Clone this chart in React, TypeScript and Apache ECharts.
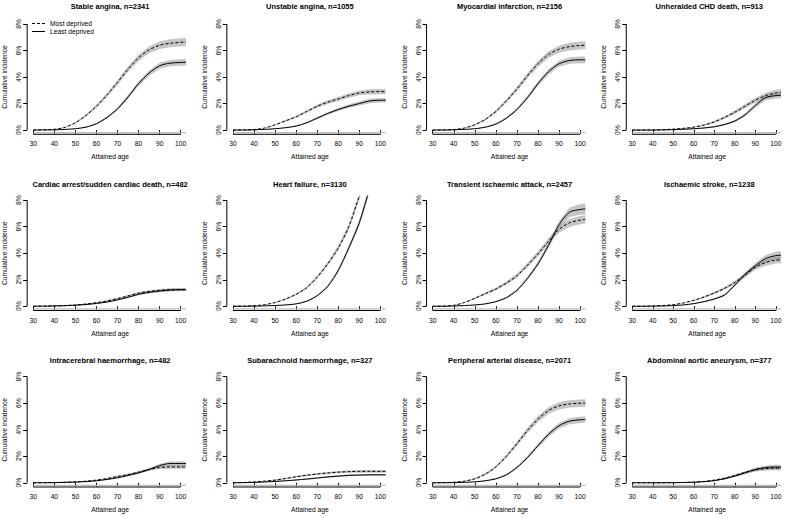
import React, { useEffect, useRef } from "react";
import * as echarts from "echarts";

// ---------- data (cumulative incidence, %) ----------
const ages = [30, 35, 40, 45, 50, 55, 60, 65, 70, 75, 80, 85, 90, 95, 100, 102.5];
const xTicks = [30, 40, 50, 60, 70, 80, 90, 100];
const yTicks = [0, 2, 4, 6, 8];

const titles = [
  "Stable angina, n=2341",
  "Unstable angina, n=1055",
  "Myocardial infarction, n=2156",
  "Unheralded CHD death, n=913",
  "Cardiac arrest/sudden cardiac death, n=482",
  "Heart failure, n=3130",
  "Transient ischaemic attack, n=2457",
  "Ischaemic stroke, n=1238",
  "Intracerebral haemorrhage, n=482",
  "Subarachnoid haemorrhage, n=327",
  "Peripheral arterial disease, n=2071",
  "Abdominal aortic aneurysm, n=377",
];

const stableAnginaMost = [0, 0.02, 0.06, 0.2, 0.55, 1.1, 1.8, 2.65, 3.6, 4.6, 5.45, 6.05, 6.4, 6.55, 6.62, 6.65];
const stableAnginaLeast = [0, 0.01, 0.02, 0.05, 0.1, 0.22, 0.48, 0.95, 1.6, 2.5, 3.5, 4.3, 4.85, 5.05, 5.1, 5.12];
const stableAnginaMostCI = [0, 0, 0.01, 0.03, 0.06, 0.09, 0.12, 0.15, 0.18, 0.21, 0.24, 0.26, 0.28, 0.3, 0.3, 0.3];
const stableAnginaLeastCI = [0, 0, 0, 0.01, 0.02, 0.04, 0.06, 0.09, 0.12, 0.15, 0.18, 0.2, 0.22, 0.24, 0.25, 0.25];

const unstableAnginaMost = [0, 0.01, 0.04, 0.15, 0.4, 0.7, 1.0, 1.4, 1.8, 2.1, 2.35, 2.6, 2.8, 2.88, 2.9, 2.9];
const unstableAnginaLeast = [0, 0, 0.02, 0.05, 0.1, 0.18, 0.3, 0.55, 0.9, 1.25, 1.55, 1.8, 2.0, 2.2, 2.25, 2.25];
const unstableAnginaMostCI = [0, 0, 0.01, 0.02, 0.04, 0.06, 0.08, 0.1, 0.12, 0.14, 0.15, 0.17, 0.18, 0.2, 0.2, 0.2];
const unstableAnginaLeastCI = [0, 0, 0, 0.01, 0.02, 0.03, 0.04, 0.06, 0.08, 0.1, 0.12, 0.14, 0.15, 0.17, 0.17, 0.17];

const myocardialMost = [0, 0.01, 0.04, 0.15, 0.4, 0.8, 1.4, 2.2, 3.1, 4.1, 5.0, 5.7, 6.1, 6.3, 6.38, 6.4];
const myocardialLeast = [0, 0, 0.02, 0.05, 0.1, 0.22, 0.45, 0.9, 1.55, 2.45, 3.5, 4.4, 5.0, 5.25, 5.3, 5.3];
const myocardialMostCI = [0, 0, 0.01, 0.03, 0.05, 0.08, 0.11, 0.14, 0.17, 0.2, 0.23, 0.25, 0.27, 0.29, 0.3, 0.3];
const myocardialLeastCI = [0, 0, 0, 0.01, 0.02, 0.04, 0.06, 0.09, 0.12, 0.15, 0.18, 0.21, 0.23, 0.25, 0.26, 0.26];

const chdDeathMost = [0, 0, 0.01, 0.03, 0.07, 0.13, 0.22, 0.38, 0.62, 0.95, 1.35, 1.8, 2.25, 2.6, 2.8, 2.85];
const chdDeathLeast = [0, 0, 0, 0.01, 0.03, 0.06, 0.1, 0.16, 0.25, 0.42, 0.68, 1.15, 1.85, 2.45, 2.6, 2.62];
const chdDeathMostCI = [0, 0, 0, 0.01, 0.02, 0.03, 0.04, 0.06, 0.08, 0.1, 0.13, 0.16, 0.19, 0.22, 0.24, 0.25];
const chdDeathLeastCI = [0, 0, 0, 0, 0.01, 0.02, 0.03, 0.04, 0.05, 0.07, 0.09, 0.12, 0.16, 0.2, 0.22, 0.22];

const cardiacArrestMost = [0, 0.01, 0.03, 0.06, 0.1, 0.17, 0.27, 0.4, 0.58, 0.78, 1.0, 1.12, 1.2, 1.25, 1.25, 1.25];
const cardiacArrestLeast = [0, 0.01, 0.02, 0.04, 0.08, 0.13, 0.21, 0.32, 0.48, 0.68, 0.9, 1.05, 1.15, 1.22, 1.25, 1.25];
const cardiacArrestMostCI = [0, 0, 0.01, 0.01, 0.02, 0.03, 0.04, 0.05, 0.06, 0.07, 0.08, 0.09, 0.1, 0.1, 0.1, 0.1];
const cardiacArrestLeastCI = [0, 0, 0, 0.01, 0.02, 0.03, 0.03, 0.04, 0.05, 0.06, 0.07, 0.08, 0.09, 0.1, 0.1, 0.1];

const heartFailureMost = [0, 0.01, 0.04, 0.12, 0.28, 0.55, 0.9, 1.4, 2.2, 3.2, 4.4, 6.0, 8.3, 10.5, 12.5, 13.5];
const heartFailureLeast = [0, 0, 0.01, 0.03, 0.06, 0.1, 0.18, 0.38, 0.8, 1.5, 2.7, 4.4, 6.3, 8.9, 11.0, 12.0];
const heartFailureMostCI = [0, 0, 0.01, 0.02, 0.03, 0.05, 0.07, 0.09, 0.12, 0.15, 0.18, 0.22, 0.27, 0.32, 0.35, 0.35];
const heartFailureLeastCI = [0, 0, 0, 0.01, 0.01, 0.02, 0.03, 0.05, 0.07, 0.1, 0.14, 0.18, 0.24, 0.3, 0.35, 0.35];

const tiaMost = [0, 0.01, 0.07, 0.28, 0.6, 0.95, 1.3, 1.75, 2.3, 3.1, 3.95, 4.9, 5.8, 6.3, 6.5, 6.55];
const tiaLeast = [0, 0, 0.02, 0.05, 0.1, 0.18, 0.35, 0.65, 1.2, 2.1, 3.2, 4.6, 6.15, 7.1, 7.3, 7.35];
const tiaMostCI = [0, 0, 0.02, 0.04, 0.07, 0.09, 0.11, 0.13, 0.15, 0.18, 0.2, 0.23, 0.26, 0.3, 0.32, 0.32];
const tiaLeastCI = [0, 0, 0, 0.01, 0.02, 0.03, 0.05, 0.07, 0.1, 0.13, 0.17, 0.22, 0.28, 0.36, 0.4, 0.4];

const strokeMost = [0, 0, 0.02, 0.06, 0.12, 0.25, 0.45, 0.7, 1.0, 1.35, 1.8, 2.35, 2.95, 3.3, 3.48, 3.5];
const strokeLeast = [0, 0, 0.01, 0.02, 0.05, 0.1, 0.2, 0.35, 0.55, 0.85, 1.6, 2.4, 3.05, 3.6, 3.82, 3.85];
const strokeMostCI = [0, 0, 0, 0.01, 0.02, 0.03, 0.05, 0.07, 0.09, 0.11, 0.13, 0.16, 0.2, 0.24, 0.26, 0.26];
const strokeLeastCI = [0, 0, 0, 0, 0.01, 0.02, 0.03, 0.05, 0.07, 0.09, 0.12, 0.16, 0.21, 0.27, 0.3, 0.3];

const ichMost = [0, 0.01, 0.02, 0.04, 0.07, 0.12, 0.2, 0.32, 0.48, 0.62, 0.8, 1.0, 1.15, 1.2, 1.2, 1.2];
const ichLeast = [0, 0, 0.01, 0.03, 0.05, 0.09, 0.15, 0.25, 0.38, 0.55, 0.75, 1.0, 1.3, 1.45, 1.45, 1.45];
const ichMostCI = [0, 0, 0, 0.01, 0.01, 0.02, 0.03, 0.04, 0.05, 0.06, 0.08, 0.1, 0.12, 0.14, 0.15, 0.15];
const ichLeastCI = [0, 0, 0, 0, 0.01, 0.02, 0.03, 0.04, 0.05, 0.06, 0.08, 0.1, 0.13, 0.16, 0.17, 0.17];

const sahMost = [0, 0.02, 0.06, 0.12, 0.2, 0.32, 0.45, 0.57, 0.66, 0.74, 0.8, 0.84, 0.86, 0.86, 0.86, 0.86];
const sahLeast = [0, 0.01, 0.03, 0.06, 0.1, 0.15, 0.21, 0.28, 0.36, 0.44, 0.5, 0.56, 0.58, 0.6, 0.6, 0.6];
const sahMostCI = [0, 0.01, 0.02, 0.03, 0.04, 0.05, 0.06, 0.07, 0.08, 0.08, 0.09, 0.09, 0.1, 0.1, 0.1, 0.1];
const sahLeastCI = [0, 0, 0.01, 0.02, 0.03, 0.03, 0.04, 0.05, 0.05, 0.06, 0.06, 0.07, 0.07, 0.07, 0.07, 0.07];

const padMost = [0, 0.01, 0.04, 0.12, 0.3, 0.65, 1.2, 2.0, 2.95, 3.95, 4.8, 5.45, 5.8, 5.95, 6.0, 6.02];
const padLeast = [0, 0, 0.01, 0.03, 0.07, 0.15, 0.3, 0.6, 1.15, 1.9, 2.8, 3.65, 4.3, 4.65, 4.75, 4.78];
const padMostCI = [0, 0, 0.01, 0.03, 0.05, 0.08, 0.11, 0.14, 0.17, 0.2, 0.23, 0.25, 0.27, 0.28, 0.29, 0.29];
const padLeastCI = [0, 0, 0, 0.01, 0.02, 0.03, 0.05, 0.07, 0.1, 0.13, 0.16, 0.19, 0.21, 0.23, 0.24, 0.24];

const aaaMost = [0, 0, 0, 0, 0.01, 0.02, 0.05, 0.1, 0.2, 0.35, 0.55, 0.78, 0.97, 1.07, 1.1, 1.1];
const aaaLeast = [0, 0, 0, 0, 0.01, 0.02, 0.04, 0.08, 0.16, 0.3, 0.5, 0.75, 1.0, 1.15, 1.18, 1.18];
const aaaMostCI = [0, 0, 0, 0, 0, 0.01, 0.01, 0.02, 0.03, 0.05, 0.07, 0.09, 0.12, 0.14, 0.15, 0.15];
const aaaLeastCI = [0, 0, 0, 0, 0, 0.01, 0.01, 0.02, 0.03, 0.05, 0.07, 0.1, 0.13, 0.16, 0.17, 0.17];

const panels = [
  [stableAnginaMost, stableAnginaLeast, stableAnginaMostCI, stableAnginaLeastCI],
  [unstableAnginaMost, unstableAnginaLeast, unstableAnginaMostCI, unstableAnginaLeastCI],
  [myocardialMost, myocardialLeast, myocardialMostCI, myocardialLeastCI],
  [chdDeathMost, chdDeathLeast, chdDeathMostCI, chdDeathLeastCI],
  [cardiacArrestMost, cardiacArrestLeast, cardiacArrestMostCI, cardiacArrestLeastCI],
  [heartFailureMost, heartFailureLeast, heartFailureMostCI, heartFailureLeastCI],
  [tiaMost, tiaLeast, tiaMostCI, tiaLeastCI],
  [strokeMost, strokeLeast, strokeMostCI, strokeLeastCI],
  [ichMost, ichLeast, ichMostCI, ichLeastCI],
  [sahMost, sahLeast, sahMostCI, sahLeastCI],
  [padMost, padLeast, padMostCI, padLeastCI],
  [aaaMost, aaaLeast, aaaMostCI, aaaLeastCI],
];

// ---------- layout ----------
const X_MIN = 27.08;
const X_MAX = 105.92;
const Y_MIN = -0.32;
const Y_MAX = 8.32;
const BASE_Y = -0.2;
const colLeft = [27.15, 226.85, 426.55, 626.25];
const rowTop = [19.8, 196, 372.5];
const titleTop = [2, 180, 356];
const GRID_W = 166;
const GRID_H = 114.5;
const FONT = "'Liberation Sans', Arial, Helvetica, sans-serif";
const BAND = "rgba(140,140,140,0.5)";

const DASH_ICON = "path://M0,0h3v1H0z M5,0h3v1H5z M10,0h3v1h-3z";
const SOLID_ICON = "path://M0,0h13v1H0z";

function buildOption() {
  const grid: any[] = [];
  const xAxis: any[] = [];
  const yAxis: any[] = [];
  const title: any[] = [];
  const series: any[] = [];

  panels.forEach((p, i) => {
    const c = i % 4;
    const r = Math.floor(i / 4);
    grid.push({ left: colLeft[c], top: rowTop[r], width: GRID_W, height: GRID_H, containLabel: false });
    title.push({
      text: titles[i],
      left: colLeft[c] + GRID_W / 2,
      top: titleTop[r],
      textAlign: "center",
      padding: 0,
      textStyle: { fontFamily: FONT, fontSize: 7.5, fontWeight: "bold", color: "#000" },
    });
    xAxis.push({
      type: "value",
      gridIndex: i,
      min: X_MIN,
      max: X_MAX,
      axisLine: { show: false },
      splitLine: { show: false },
      axisTick: { show: true, length: 4, customValues: xTicks, lineStyle: { color: "#000", width: 1 } },
      axisLabel: { customValues: xTicks, margin: 6, fontSize: 6.7, fontFamily: FONT, color: "#000" },
      name: "Attained age",
      nameLocation: "middle",
      nameGap: 19,
      nameTextStyle: { fontSize: 6.7, fontFamily: FONT, color: "#000" },
    });
    yAxis.push({
      type: "value",
      gridIndex: i,
      min: Y_MIN,
      max: Y_MAX,
      axisLine: { show: false },
      splitLine: { show: false },
      axisTick: { show: true, length: 4, customValues: yTicks, lineStyle: { color: "#000", width: 1 } },
      axisLabel: {
        customValues: yTicks,
        rotate: 90,
        margin: 5,
        fontSize: 6.7,
        fontFamily: FONT,
        color: "#000",
        formatter: (v: number) => `${Math.round(v)}%`,
      },
      name: "Cumulative incidence",
      nameLocation: "middle",
      nameRotate: 90,
      nameGap: 19,
      nameTextStyle: { fontSize: 6.7, fontFamily: FONT, color: "#000" },
    });

    const [most, least, mostCI, leastCI] = p;
    const addBand = (vals: number[], ci: number[], key: string) => {
      const lower = vals.map((v, k) => Math.max(0, v - ci[k]));
      const upper = vals.map((v, k) => v + ci[k]);
      series.push({
        name: `band-${key}-${i}`,
        type: "custom",
        xAxisIndex: i,
        yAxisIndex: i,
        clip: true,
        silent: true,
        z: 1,
        data: [[ages[0], lower[0]]],
        renderItem: (_params: any, api: any) => {
          const top = ages.map((a, k) => api.coord([a, upper[k]]));
          const bot = ages.map((a, k) => api.coord([a, lower[k]])).reverse();
          return {
            type: "polygon",
            shape: { points: top.concat(bot) },
            style: { fill: BAND, stroke: "none", lineWidth: 0 },
          };
        },
      });
    };
    addBand(most, mostCI, "m");
    addBand(least, leastCI, "l");

    series.push({
      name: "Most deprived",
      type: "line",
      xAxisIndex: i,
      yAxisIndex: i,
      data: ages.map((a, k) => [a, most[k]]),
      symbol: "none",
      smooth: 0.3,
      lineStyle: { color: "#000", width: 1, type: [3, 2] },
      itemStyle: { color: "#000" },
      silent: true,
      z: 3,
    });
    series.push({
      name: "Least deprived",
      type: "line",
      xAxisIndex: i,
      yAxisIndex: i,
      data: ages.map((a, k) => [a, least[k]]),
      symbol: "none",
      smooth: 0.3,
      lineStyle: { color: "#000", width: 1, type: "solid" },
      itemStyle: { color: "#000" },
      silent: true,
      z: 3,
    });
    // grey strip just above the x axis
    series.push({
      name: `base-${i}`,
      type: "line",
      xAxisIndex: i,
      yAxisIndex: i,
      data: [
        [ages[0], BASE_Y],
        [ages[ages.length - 1], BASE_Y],
      ],
      symbol: "none",
      lineStyle: { color: "#bdbdbd", width: 1.2 },
      itemStyle: { color: "#bdbdbd" },
      silent: true,
      clip: false,
      z: 2,
    });
    // R-style axis lines (from first to last tick)
    series.push({
      name: `xaxis-${i}`,
      type: "line",
      xAxisIndex: i,
      yAxisIndex: i,
      data: [
        [xTicks[0], Y_MIN],
        [xTicks[xTicks.length - 1], Y_MIN],
      ],
      symbol: "none",
      lineStyle: { color: "#000", width: 1 },
      itemStyle: { color: "#000" },
      silent: true,
      clip: false,
      z: 4,
    });
    series.push({
      name: `yaxis-${i}`,
      type: "line",
      xAxisIndex: i,
      yAxisIndex: i,
      data: [
        [X_MIN, yTicks[0]],
        [X_MIN, yTicks[yTicks.length - 1]],
      ],
      symbol: "none",
      lineStyle: { color: "#000", width: 1 },
      itemStyle: { color: "#000" },
      silent: true,
      clip: false,
      z: 4,
    });
  });

  return {
    animation: false,
    backgroundColor: "#fff",
    textStyle: { fontFamily: FONT },
    title,
    grid,
    xAxis,
    yAxis,
    legend: {
      data: [
        { name: "Most deprived", icon: DASH_ICON },
        { name: "Least deprived", icon: SOLID_ICON },
      ],
      left: 32,
      top: 20,
      orient: "vertical",
      itemWidth: 13,
      itemHeight: 1,
      itemGap: 1,
      padding: 0,
      selectedMode: false,
      itemStyle: { color: "#000" },
      textStyle: { fontSize: 6.7, fontFamily: FONT, color: "#000" },
    },
    series,
  };
}

export default function App() {
  const ref = useRef<HTMLDivElement>(null);
  useEffect(() => {
    if (!ref.current) return;
    const chart = echarts.init(ref.current, undefined, { renderer: "svg" });
    chart.setOption(buildOption() as any);
    return () => chart.dispose();
  }, []);
  return (
    <div
      ref={ref}
      style={{ position: "absolute", left: 0, top: 0, width: 788, height: 518, background: "#fff" }}
    />
  );
}
